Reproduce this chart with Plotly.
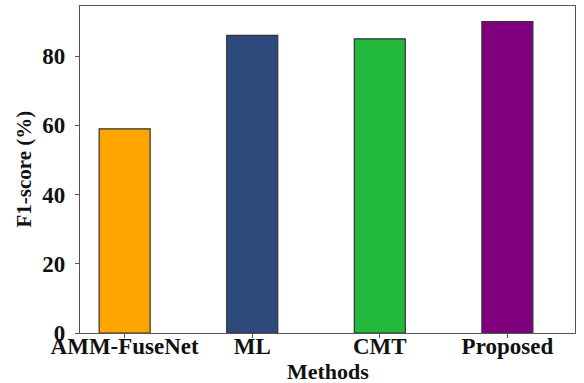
import plotly.graph_objects as go

methods = ["AMM-FuseNet", "ML", "CMT", "Proposed"]
f1_scores = [59, 86, 85, 90]
bar_colors = ["#FFA500", "#2E4A7C", "#22B83C", "#800080"]
y_ticks = [0, 20, 40, 60, 80]

font_family = "Liberation Serif, Times New Roman, serif"

fig = go.Figure()
fig.add_trace(go.Bar(
    x=list(range(len(methods))),
    y=f1_scores,
    width=0.4,
    marker=dict(color=bar_colors, line=dict(color="#333333", width=1.2)),
))

fig.update_layout(
    width=584, height=383,
    margin=dict(l=80, r=9, t=6, b=50, autoexpand=False),
    paper_bgcolor="white", plot_bgcolor="white",
    showlegend=False,
    font=dict(family=font_family, color="#111111"),
    xaxis=dict(
        range=[-0.35, 3.53],
        automargin=False,
        tickmode="array",
        tickvals=list(range(len(methods))),
        ticktext=["<b>%s</b>" % m for m in methods],
        tickfont=dict(size=23, family=font_family),
        ticks="outside", ticklen=4, tickcolor="#555555",
        ticklabelstandoff=-12,
        showline=True, linecolor="#555555", linewidth=1.2, mirror=True,
        showgrid=False, zeroline=False,
    ),
    yaxis=dict(
        range=[0, 94.5],
        automargin=False,
        tickmode="array",
        tickvals=y_ticks,
        ticktext=["<b>%d</b>" % v for v in y_ticks],
        tickfont=dict(size=23, family=font_family),
        ticks="outside", ticklen=4, tickcolor="#555555",
        ticklabelstandoff=5,
        showline=True, linecolor="#555555", linewidth=1.2, mirror=True,
        showgrid=False, zeroline=False,
    ),
    annotations=[
        dict(text="<b>Methods</b>", xref="paper", yref="paper", x=0.5, y=0,
             yshift=-38, xanchor="center", yanchor="middle", showarrow=False,
             font=dict(size=22, family=font_family, color="#111111")),
        dict(text="<b>F1-score (%)</b>", xref="paper", yref="paper", x=0, y=0.5,
             xshift=-57, xanchor="center", yanchor="middle", textangle=-90, showarrow=False,
             font=dict(size=21, family=font_family, color="#111111")),
    ],
)

fig.write_html("out.html", config={"displayModeBar": False},
               post_script="document.body.style.margin='0';")
